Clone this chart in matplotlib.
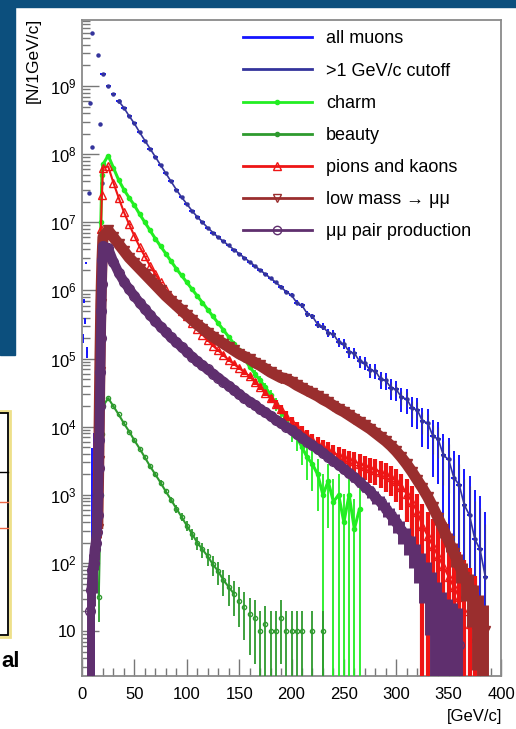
import numpy as np
import matplotlib
matplotlib.use('Agg')
import matplotlib.pyplot as plt
from matplotlib.lines import Line2D
from matplotlib.patches import Rectangle
from matplotlib.ticker import FixedLocator, LogLocator, FuncFormatter, MultipleLocator, NullFormatter

plt.rcParams['font.family'] = ['Liberation Sans', 'DejaVu Sans']
plt.rcParams['mathtext.default'] = 'regular'

# ---- data: momentum [GeV/c], log10(N per 1 GeV/c) ----
# >1 GeV/c cutoff (navy dots); a few stray low-momentum dots kept apart
cut_stray_x = [6.5, 7.5, 9.5, 17, 19]
cut_stray_log = [7.43, 8.75, 8.1, 8.44, 7.58]
cut_x = list(range(10, 390, 5))
cut_log = [9.78, 9.45, 9.18, 9.0, 8.88, 8.78, 8.68, 8.56, 8.45,
           8.32, 8.2, 8.08, 7.96, 7.84, 7.72, 7.6, 7.48, 7.37, 7.27,
           7.17, 7.08, 7.0, 6.92, 6.85, 6.78, 6.72, 6.66, 6.6, 6.54,
           6.48, 6.42, 6.36, 6.3, 6.24, 6.18, 6.12, 6.05, 5.98, 5.93,
           5.82, 5.78, 5.66, 5.62, 5.5, 5.47, 5.38, 5.36, 5.24, 5.22,
           5.1, 5.08, 4.96, 4.94, 4.83, 4.82, 4.7, 4.68, 4.57, 4.55,
           4.43, 4.41, 4.27, 4.25, 4.08, 4.06, 3.86, 3.82, 3.58, 3.52,
           3.25, 3.15, 2.85, 2.7, 2.35, 2.2, 1.8]

# all muons (blue histogram): low momentum bins, above 20 GeV/c it follows the cutoff curve
all_low_x = [1, 2, 3, 4, 5, 10, 11, 12, 13, 14]
all_low_log = [5.3, 5.85, 5.55, 6.4, 5.1, 3.3, 3.6, 3.9, 4.15, 4.4]

# charm (light green)
charm_x = [16, 17, 18, 19] + list(range(20, 270, 5))
charm_log = [3.5, 5.1, 7.0, 7.7,
             7.85, 7.98, 7.8, 7.62, 7.48, 7.36, 7.25, 7.12, 7.0, 6.88,
             6.76, 6.65, 6.54, 6.43, 6.32, 6.22, 6.12, 6.02, 5.92, 5.82,
             5.72, 5.62, 5.52, 5.42, 5.32, 5.22, 5.12, 5.0, 4.88, 4.78,
             4.68, 4.58, 4.47, 4.34, 4.22, 4.1, 3.95, 3.85, 3.7, 3.55,
             3.45, 3.3, 3.0, 3.2, 2.9, 3.0, 2.6, 3.0, 2.5, 2.8]

# beauty (dark green)
beauty_x = [16, 18, 19] + list(range(20, 165, 5))
beauty_log = [1.5, 3.0, 3.9,
              4.3, 4.42, 4.3, 4.18, 4.05, 3.93, 3.8, 3.68, 3.55, 3.42,
              3.3, 3.18, 3.05, 2.93, 2.8, 2.68, 2.55, 2.43, 2.3, 2.2,
              2.1, 1.98, 1.88, 1.75, 1.65, 1.55, 1.45, 1.35, 1.25]
beauty_tail_x = [165, 170, 175, 180, 185, 190, 195, 200, 205, 210, 220, 230]
beauty_tail_log = [1.2, 1.0, 1.1, 1.0, 1.0, 1.2, 1.0, 1.0, 1.0, 1.0, 1.0, 1.0]

# pions and kaons (red)
pik_x = [15, 16, 17, 18, 19] + list(range(20, 380, 5))
pik_log = [3.0, 4.5, 5.8, 6.9, 7.4,
           7.8, 7.82, 7.58, 7.36, 7.15, 6.97, 6.8, 6.64, 6.5, 6.36,
           6.24, 6.12, 6.0, 5.9, 5.8, 5.7, 5.62, 5.52, 5.43, 5.35,
           5.27, 5.19, 5.12, 5.05, 4.98, 4.92, 4.86, 4.8, 4.74, 4.66,
           4.58, 4.5, 4.42, 4.34, 4.26, 4.16, 4.07, 3.99, 3.92, 3.86,
           3.8, 3.75, 3.7, 3.66, 3.62, 3.58, 3.55, 3.52, 3.49, 3.46,
           3.43, 3.4, 3.37, 3.34, 3.3, 3.26, 3.2, 3.12, 3.02, 2.9,
           2.75, 2.55, 2.4, 2.25, 2.1, 1.95, 1.8, 1.65, 1.5, 1.3, 1.1, 0.9]

# low mass -> mumu (brown)
lowm_x = [15, 16, 17, 18, 19] + list(range(20, 390, 5))
lowm_log = [2.5, 3.5, 4.8, 5.8, 6.4,
            6.78, 6.88, 6.78, 6.68, 6.58, 6.48, 6.4, 6.32, 6.24, 6.16,
            6.08, 6.0, 5.92, 5.85, 5.78, 5.71, 5.64, 5.57, 5.5, 5.44,
            5.38, 5.32, 5.27, 5.22, 5.17, 5.12, 5.07, 5.03, 4.99, 4.94,
            4.9, 4.85, 4.8, 4.76, 4.72, 4.7, 4.66, 4.61, 4.57, 4.53,
            4.49, 4.45, 4.4, 4.36, 4.31, 4.26, 4.22, 4.17, 4.12, 4.07,
            4.02, 3.97, 3.91, 3.85, 3.79, 3.72, 3.64, 3.55, 3.45, 3.34,
            3.22, 3.1, 2.97, 2.82, 2.66, 2.5, 2.32, 2.15, 1.97, 1.8, 1.6, 1.4, 1.2, 1.0]

# mumu pair production (purple)
pair_x = [8, 9, 10, 11, 12, 13, 14, 15, 15.5, 16, 16.5, 17, 17.5, 18, 18.5, 19, 19.5] + list(range(20, 365, 5))
pair_log = [1.3, 1.6, 1.9, 2.0, 2.2, 2.3, 2.45, 2.7, 3.0, 3.4, 3.8, 4.3, 4.8, 5.3, 5.7, 6.1, 6.45,
            6.65, 6.62, 6.42, 6.26, 6.13, 6.02, 5.92, 5.82, 5.73, 5.64,
            5.55, 5.47, 5.39, 5.31, 5.24, 5.17, 5.1, 5.03, 4.96, 4.9,
            4.84, 4.78, 4.72, 4.66, 4.6, 4.54, 4.48, 4.42, 4.37, 4.32,
            4.26, 4.21, 4.16, 4.1, 4.05, 4.0, 3.95, 3.89, 3.84, 3.78,
            3.73, 3.67, 3.62, 3.56, 3.5, 3.44, 3.38, 3.32, 3.26, 3.19,
            3.12, 3.05, 2.97, 2.89, 2.8, 2.7, 2.6, 2.48, 2.36, 2.22,
            2.08, 1.92, 1.75, 1.55, 1.35, 1.15, 1.0, 0.9, 0.8]

labels = ['all muons', '>1 GeV/c cutoff', 'charm', 'beauty', 'pions and kaons',
          'low mass \u2192 \u03bc\u03bc', '\u03bc\u03bc pair production']
colors = ['#1515ff', '#34349c', '#22ee22', '#2e9a2e', '#ee1515', '#9a2e2e', '#5f2f6e']

fig = plt.figure(figsize=(5.16, 7.29), dpi=100)
fig.patch.set_facecolor('white')
ax = fig.add_axes([82/516, 1-676/729, 419/516, 656/729])


def draw(x, logy, w, color, marker, ms, mfc, elw, z, xerr=None, lw=0):
    x = np.asarray(x, dtype=float)
    y = 10.0**np.asarray(logy)
    rel = 1.0/np.sqrt(y/w)
    lo = np.where(rel >= 1, y - 0.3, y*rel)
    hi = y*rel
    ax.errorbar(x, y, yerr=[lo, hi], xerr=xerr, fmt=marker, ms=ms, mfc=mfc, mec=color,
                color=color, ecolor=color, elinewidth=elw, capsize=0, mew=1.0, zorder=z)
    if lw:
        keep = y > 30
        ax.plot(x[keep], y[keep], color=color, lw=lw, zorder=z, solid_capstyle='butt')


# all muons
all_x = all_low_x + [v for v in cut_x if v >= 20]
all_log = all_low_log + [l for v, l in zip(cut_x, cut_log) if v >= 20]
draw(all_x, all_log, 4000, colors[0], 'none', 0, 'none', 1.4, 2,
     xerr=[0.5]*len(all_low_x) + [2.5]*(len(all_x)-len(all_low_x)))
draw(cut_stray_x, cut_stray_log, 1500, colors[1], 'o', 2.2, colors[1], 0.8, 3)
draw(cut_x[:6], cut_log[:6], 1500, colors[1], 'o', 2.2, colors[1], 0.8, 3)
draw(cut_x[5:], cut_log[5:], 1500, colors[1], 'o', 2.2, colors[1], 0.8, 3, lw=1.2)
draw(charm_x, charm_log, 1000, colors[2], 'o', 3.0, colors[2], 1.3, 4, lw=2.2)
draw(beauty_x, beauty_log, 10, colors[3], 'o', 3.0, 'none', 1.3, 5, lw=1.5)
draw(beauty_tail_x, beauty_tail_log, 10, colors[3], 'o', 3.0, 'none', 1.3, 5)
draw(pik_x, pik_log, 400, colors[4], '^', 6, 'none', 3.0, 6, lw=1.5)
draw(lowm_x, lowm_log, 20, colors[5], 'v', 7, colors[5], 5.0, 7, lw=8)
draw(pair_x, pair_log, 40, colors[6], 'o', 7, 'none', 5.0, 8, lw=7)

ax.set_yscale('log')
ax.set_xlim(0, 400)
ax.set_ylim(2.2, 9.3e9)
ax.xaxis.set_major_locator(FixedLocator(range(0, 401, 50)))
ax.xaxis.set_minor_locator(MultipleLocator(10))
ax.yaxis.set_major_locator(FixedLocator([10.0**k for k in range(1, 10)]))
ax.yaxis.set_minor_locator(LogLocator(base=10, subs=np.arange(2, 10), numticks=20))
ax.yaxis.set_minor_formatter(NullFormatter())
ax.yaxis.set_major_formatter(FuncFormatter(
    lambda v, p: '10' if abs(v - 10) < 1e-6 else r'$\mathdefault{10^{%d}}$' % round(np.log10(v))))
ax.tick_params(which='both', direction='in', colors='#777777', labelcolor='black', labelsize=12)
ax.tick_params(which='major', length=12, width=1)
ax.tick_params(which='minor', length=6, width=1)
ax.tick_params(axis='x', which='both', top=False, pad=8)
ax.tick_params(axis='y', which='both', right=False, pad=4)
for s in ax.spines.values():
    s.set_color('#8a8a8a')
    s.set_linewidth(1.3)

handles = [
    Line2D([], [], color=colors[0], lw=2),
    Line2D([], [], color=colors[1], lw=2),
    Line2D([], [], color=colors[2], lw=2, marker='o', ms=3),
    Line2D([], [], color=colors[3], lw=2, marker='o', ms=3),
    Line2D([], [], color=colors[4], lw=2, marker='^', ms=6, mfc='none'),
    Line2D([], [], color=colors[5], lw=2, marker='v', ms=6, mfc='none'),
    Line2D([], [], color=colors[6], lw=2, marker='o', ms=6, mfc='none'),
]
ax.legend(handles, labels, loc='upper left', bbox_to_anchor=(0.384, 0.984), frameon=False,
          fontsize=13, handlelength=3.8, handletextpad=0.8, labelspacing=0.84, borderpad=0,
          borderaxespad=0)

fig.text(33/516, 1-18/729, '[N/1GeV/c]', rotation=90, ha='center', va='top', fontsize=12.5)
fig.text(502/516, 1-716/729, '[GeV/c]', ha='right', va='center', fontsize=12)

# slide background around the pasted plot
bg = '#0c4f7d'
fig.add_artist(Rectangle((0, 1-7/729), 1, 7/729, transform=fig.transFigure, color=bg, zorder=-5))
fig.add_artist(Rectangle((0, 1-355/729), 15/516, 355/729, transform=fig.transFigure, color=bg, zorder=-5))
# fragment of a neighbouring figure on the slide
fig.add_artist(Rectangle((-20/516, 1-637/729), 30/516, 226/729, transform=fig.transFigure,
                         fill=False, ec='#eee08a', lw=2))
fig.add_artist(Rectangle((-20/516, 1-635/729), 28/516, 222/729, transform=fig.transFigure,
                         fill=False, ec='black', lw=1.3))
fig.add_artist(Line2D([0, 8/516], [1-472/729]*2, transform=fig.transFigure, color='black', lw=1))
fig.add_artist(Line2D([0, 8/516], [1-502/729]*2, transform=fig.transFigure, color='#ee6644', lw=1))
fig.add_artist(Line2D([0, 8/516], [1-528/729]*2, transform=fig.transFigure, color='#ee6644', lw=1))
fig.text(1/516, 1-667/729, 'al', ha='left', va='baseline', fontsize=16, fontweight='bold')

fig.savefig('out.png', dpi=100)
